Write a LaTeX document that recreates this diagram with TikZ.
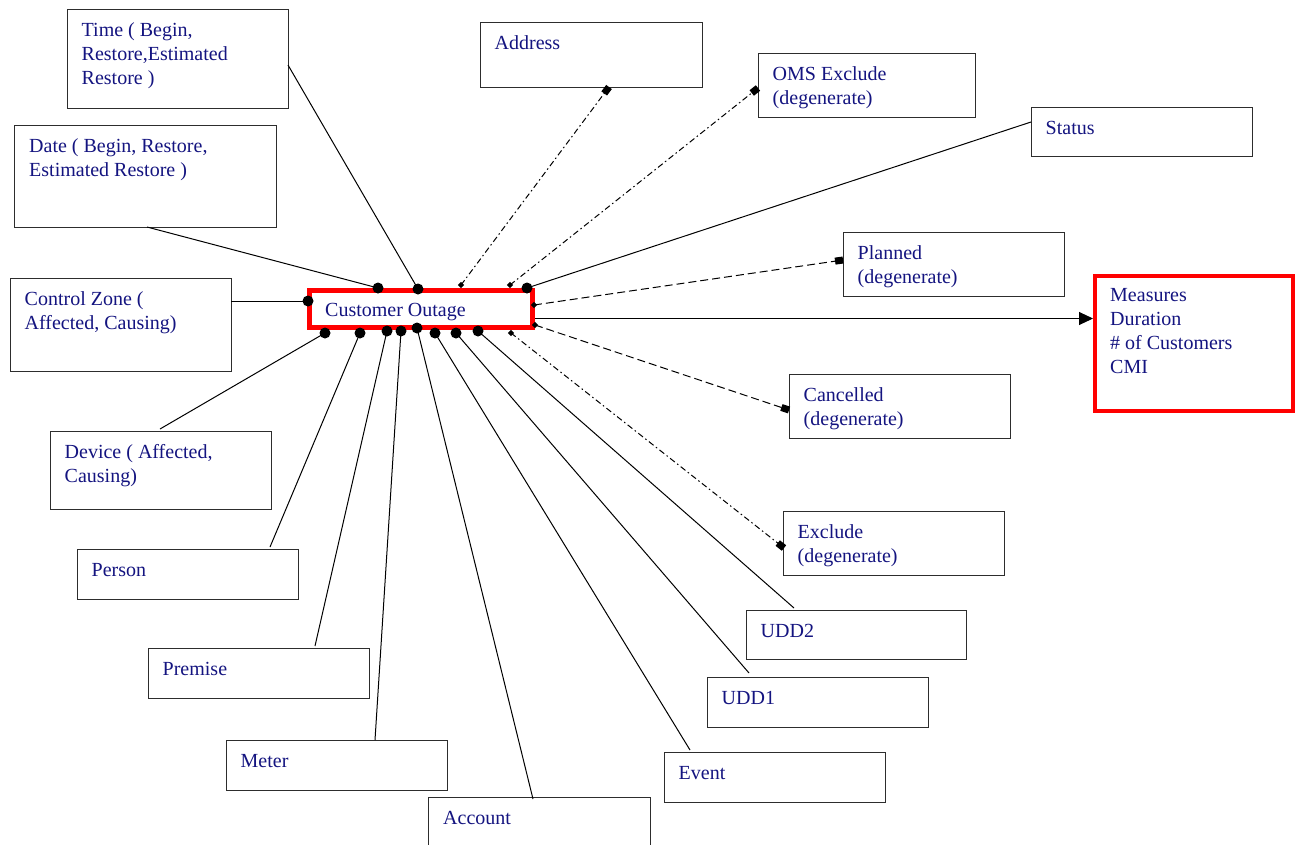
\documentclass[tikz,border=0pt]{standalone}
\usepackage{fontspec}
\setmainfont{Liberation Serif}
\usetikzlibrary{arrows.meta}
\definecolor{navytxt}{RGB}{20,20,128}
\definecolor{boxgray}{RGB}{45,45,45}
\definecolor{outred}{RGB}{255,0,0}
\newcommand\bigdot[1]{\fill[black] (#1) circle (5.5pt);}
\newcommand\smalldmd[1]{\fill[black] (#1) +(0,-3.2) -- +(3.2,0) -- +(0,3.2) -- +(-3.2,0) -- cycle;}
\begin{document}
\begin{tikzpicture}[x=1pt,y=-1pt,
  ebox/.style={draw=boxgray,line width=1.3pt,anchor=north west,inner sep=0pt},
  redbox/.style={draw=outred,anchor=north west,inner sep=0pt},
  txt/.style={anchor=base west,inner sep=0pt,text=navytxt,font=\fontsize{20}{24}\selectfont},
  conn/.style={line width=1pt,black},
  dashdotline/.style={conn,dash pattern=on 6pt off 3pt on 1.5pt off 3pt,-{Square[length=8pt,width=7pt]}},
  dashline/.style={conn,dash pattern=on 8pt off 4pt,-{Square[length=8pt,width=7pt]}}]
\useasboundingbox (0,0) rectangle (1298,844);
\fill[white] (0,0) rectangle (1298,844);

% boxes
\node[ebox,minimum width=221pt,minimum height=99pt] (time) at (67,9) {};
\node[ebox,minimum width=262pt,minimum height=102pt] (date) at (14,125) {};
\node[ebox,minimum width=221pt,minimum height=93pt] (ctrl) at (10,278) {};
\node[ebox,minimum width=221pt,minimum height=78pt] (dev) at (50,431) {};
\node[ebox,minimum width=221pt,minimum height=50pt] (pers) at (77,549) {};
\node[ebox,minimum width=221pt,minimum height=50pt] (prem) at (148,648) {};
\node[ebox,minimum width=221pt,minimum height=50pt] (meter) at (226,740) {};
\node[ebox,minimum width=222pt,minimum height=60pt] (acct) at (428,797) {};
\node[ebox,minimum width=221pt,minimum height=50pt] (event) at (664,752) {};
\node[ebox,minimum width=221pt,minimum height=50pt] (udda) at (707,677) {};
\node[ebox,minimum width=220pt,minimum height=49pt] (uddb) at (746,610) {};
\node[ebox,minimum width=221pt,minimum height=64pt] (excl) at (783,511) {};
\node[ebox,minimum width=221pt,minimum height=64pt] (canc) at (789,374) {};
\node[ebox,minimum width=221pt,minimum height=64pt] (plan) at (843,232) {};
\node[ebox,minimum width=221pt,minimum height=49pt] (stat) at (1031,107) {};
\node[ebox,minimum width=217pt,minimum height=64pt] (oms) at (758,53) {};
\node[ebox,minimum width=222pt,minimum height=65pt] (addr) at (480,22) {};

% texts
\node[txt] (timet) at (81.5,36) {\vtop{\hbox{Time ( Begin,}\hbox{Restore,Estimated}\hbox{Restore )}}};
\node[txt] (datet) at (29,152) {\vtop{\hbox{Date ( Begin, Restore,}\hbox{Estimated Restore )}}};
\node[txt] (ctrlt) at (24.5,305) {\vtop{\hbox{Control Zone (}\hbox{Affected, Causing)}}};
\node[txt] (devt) at (64.5,458) {\vtop{\hbox{Device ( Affected,}\hbox{Causing)}}};
\node[txt] (perst) at (91.5,576) {Person};
\node[txt] (premt) at (162.5,675) {Premise};
\node[txt] (metert) at (240.5,767) {Meter};
\node[txt] (acctt) at (443,824) {Account};
\node[txt] (eventt) at (678.5,779) {Event};
\node[txt] (uddat) at (721.5,704) {UDD1};
\node[txt] (uddbt) at (760.5,637) {UDD2};
\node[txt] (exclt) at (797.5,538) {\vtop{\hbox{Exclude}\hbox{(degenerate)}}};
\node[txt] (canct) at (803.5,401) {\vtop{\hbox{Cancelled}\hbox{(degenerate)}}};
\node[txt] (plant) at (857.5,259) {\vtop{\hbox{Planned}\hbox{(degenerate)}}};
\node[txt] (statt) at (1045.5,134) {Status};
\node[txt] (omst) at (772.5,80) {\vtop{\hbox{OMS Exclude}\hbox{(degenerate)}}};
\node[txt] (addrt) at (494.5,49) {Address};

% attachment points on Customer Outage
\coordinate (coA) at (378,288);
\coordinate (coB) at (418,289);
\coordinate (coC) at (461,285);
\coordinate (coD) at (510,285);
\coordinate (coE) at (527,288);
\coordinate (coF) at (308,301);
\coordinate (coG) at (534,305);
\coordinate (coH) at (535,325);
\coordinate (coI) at (535,318.5);
\coordinate (coJ) at (325,333);
\coordinate (coK) at (360,333);
\coordinate (coL) at (387,331);
\coordinate (coM) at (401,331);
\coordinate (coN) at (417,328);
\coordinate (coO) at (435,333);
\coordinate (coP) at (456,333);
\coordinate (coQ) at (478,331);
\coordinate (coR) at (511,333);

% far ends
\coordinate (timeE) at (288,65);
\coordinate (dateE) at (147,227);
\coordinate (ctrlE) at (231,301);
\coordinate (devE) at (160,429);
\coordinate (persE) at (270,547);
\coordinate (premE) at (315,646);
\coordinate (meterE) at (375,740);
\coordinate (acctE) at (533,799);
\coordinate (eventE) at (690,750);
\coordinate (uddaE) at (749,673);
\coordinate (uddbE) at (794,608);
\coordinate (exclE) at (784,548);
\coordinate (cancE) at (789,410);
\coordinate (planE) at (843,260);
\coordinate (statE) at (1031,122);
\coordinate (omsE) at (758,88);
\coordinate (addrE) at (609,87);

% solid connectors
\draw[conn] (timeE) -- (coB);
\draw[conn] (dateE) -- (coA);
\draw[conn] (ctrlE) -- (coF);
\draw[conn] (devE) -- (coJ);
\draw[conn] (persE) -- (coK);
\draw[conn] (premE) -- (coL);
\draw[conn] (meterE) -- (coM);
\draw[conn] (acctE) -- (coN);
\draw[conn] (eventE) -- (coO);
\draw[conn] (uddaE) -- (coP);
\draw[conn] (uddbE) -- (coQ);
\draw[conn] (statE) -- (coE);

% dashed connectors
\draw[dashdotline] (coC) -- (addrE);
\draw[dashdotline] (coD) -- (omsE);
\draw[dashline] (coG) -- (planE);
\draw[dashline] (coH) -- (cancE);
\draw[dashdotline] (coR) -- (exclE);

% central boxes
\node[redbox,line width=5pt,minimum width=223pt,minimum height=37pt] (co) at (307,288) {};
\node[txt] (cot) at (325,316) {Customer Outage};
\node[redbox,line width=4pt,minimum width=198pt,minimum height=135pt] (meas) at (1093,274) {};
\node[txt] (meast) at (1110,301) {\vtop{\hbox{Measures}\hbox{Duration}\hbox{\# of Customers}\hbox{CMI}}};

\draw[conn,-{Triangle[length=14pt,width=13pt]}] (coI) -- (meas.west |- coI);

% end markers on Customer Outage
\bigdot{coA}\bigdot{coB}\bigdot{coE}\bigdot{coF}
\bigdot{coJ}\bigdot{coK}\bigdot{coL}\bigdot{coM}\bigdot{coN}\bigdot{coO}\bigdot{coP}\bigdot{coQ}
\smalldmd{coC}\smalldmd{coD}\smalldmd{coG}\smalldmd{coH}\smalldmd{coR}
\end{tikzpicture}
\end{document}
